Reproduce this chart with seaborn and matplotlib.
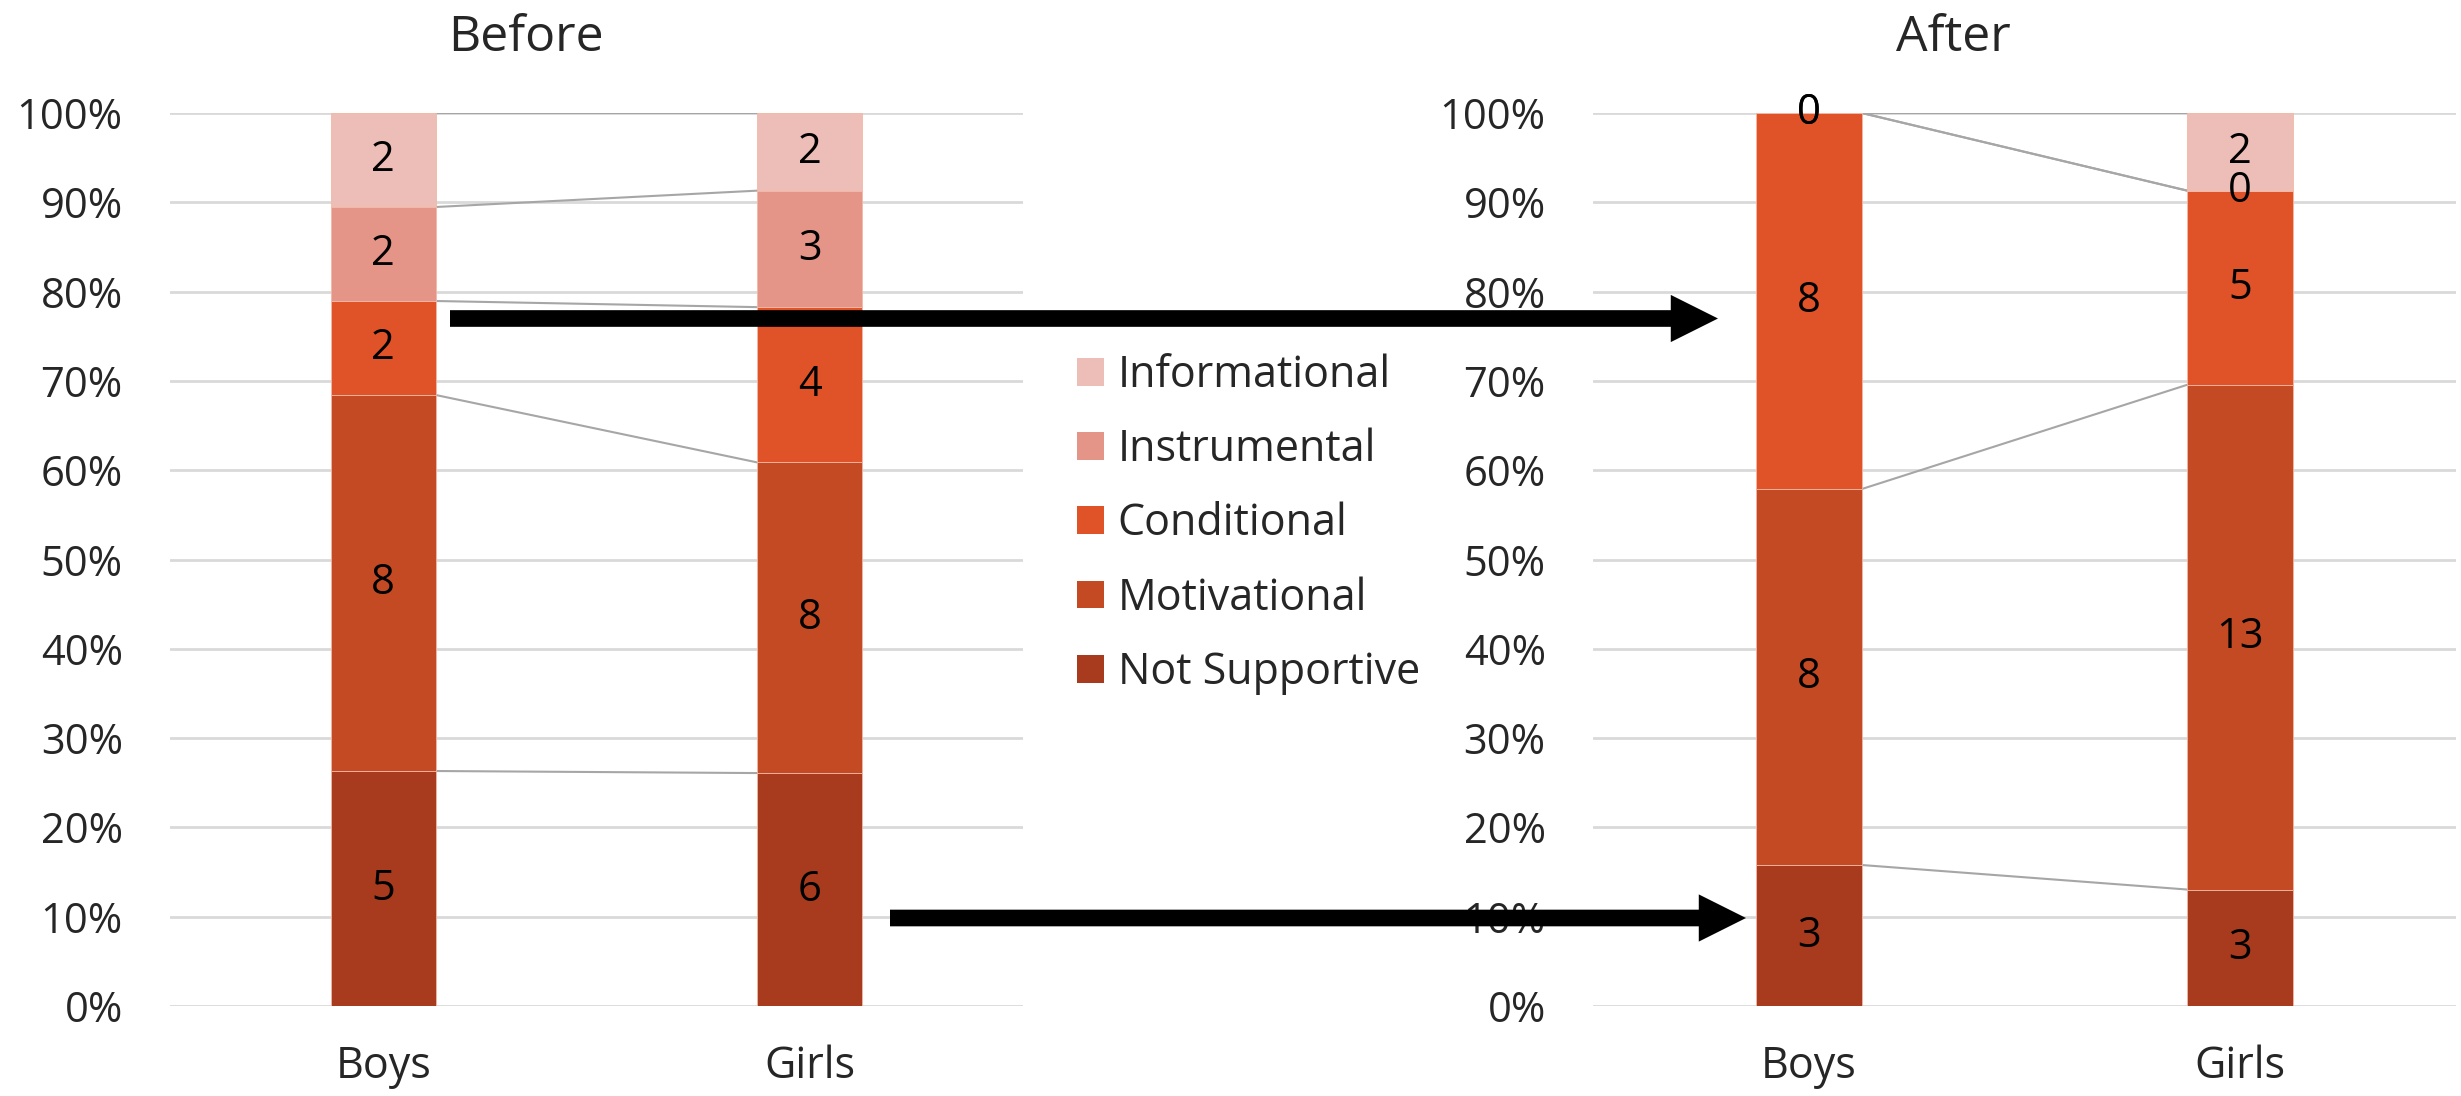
import numpy as np
import pandas as pd
import matplotlib
matplotlib.use("Agg")
import matplotlib.pyplot as plt
from matplotlib.patches import FancyArrowPatch, ArrowStyle, Patch
import seaborn as sns

# ---- data -------------------------------------------------------------
groups = ["Boys", "Girls"]
support_types = ["Not Supportive", "Motivational", "Conditional",
                 "Instrumental", "Informational"]  # bottom -> top
before_boys = [5, 8, 2, 2, 2]
before_girls = [6, 8, 4, 3, 2]
after_boys = [3, 8, 8, 0, 0]
after_girls = [3, 13, 5, 0, 2]
panel_titles = ["Before", "After"]
y_ticks = [0, 10, 20, 30, 40, 50, 60, 70, 80, 90, 100]

palette = {
    "Not Supportive": "#A83B1D",
    "Motivational": "#C44A24",
    "Conditional": "#E05328",
    "Instrumental": "#E59488",
    "Informational": "#EDBDB7",
}

# ---- style ------------------------------------------------------------
sns.set_theme(style="white")
plt.rcParams["font.family"] = ["Open Sans", "DejaVu Sans"]
YTICK_FS = 30
XTICK_FS = 31
LABEL_FS = 30
LEGEND_FS = 31
TITLE_FS = 36
BAR_W = 0.246

fig = plt.figure(figsize=(24.61, 10.96), dpi=100)
ax_before = fig.add_axes([0.0691, 0.0821, 0.3466, 0.8148])
ax_after = fig.add_axes([0.6473, 0.0821, 0.3507, 0.8148])


def draw_panel(ax, boys, girls):
    counts = np.array([boys, girls], dtype=float)  # shape (groups, types)
    totals = counts.sum(axis=1, keepdims=True)
    frac = counts / totals
    cum_top = np.cumsum(frac, axis=1)
    cum_bottom = cum_top - frac

    for j, stype in enumerate(support_types):
        df = pd.DataFrame({"group": groups, "share": frac[:, j]})
        sns.barplot(data=df, x="group", y="share", order=groups,
                    bottom=cum_bottom[:, j], color=palette[stype],
                    width=BAR_W, errorbar=None, ax=ax,
                    edgecolor="#f4b7a4", linewidth=0.6, saturation=1.0,
                    zorder=3)
        # count labels centred in each segment
        for i in range(len(groups)):
            ymid = cum_bottom[i, j] + frac[i, j] / 2
            ax.text(i, ymid, f"{int(counts[i, j])}", ha="center",
                    va="center", fontsize=LABEL_FS, color="black", zorder=5)
        # series lines joining segment tops between the two bars
        ax.plot([0 + BAR_W / 2, 1 - BAR_W / 2],
                [cum_top[0, j], cum_top[1, j]],
                color="#a6a6a6", lw=1.5, zorder=2)

    ax.set_ylim(0, 1)
    ax.set_xlim(-0.5, 1.5)
    ax.set_yticks(np.array(y_ticks) / 100)
    ax.set_yticklabels([f"{t}%" for t in y_ticks])
    ax.yaxis.grid(True, color="#d9d9d9", lw=2, zorder=0)
    ax.xaxis.grid(False)
    ax.set_axisbelow(True)
    ax.set_xlabel("")
    ax.set_ylabel("")
    ax.tick_params(axis="y", length=0, pad=34, labelsize=YTICK_FS)
    ax.tick_params(axis="x", length=0, pad=28, labelsize=XTICK_FS)
    sns.despine(ax=ax, left=True, bottom=True)


draw_panel(ax_before, before_boys, before_girls)
draw_panel(ax_after, after_boys, after_girls)

# panel titles
fig.text(0.2137, 0.965, panel_titles[0], ha="center", va="center",
         fontsize=TITLE_FS)
fig.text(0.7936, 0.965, panel_titles[1], ha="center", va="center",
         fontsize=TITLE_FS)

# shared legend between the panels (top entry = top of stack)
handles = [Patch(facecolor=palette[s], edgecolor="none")
           for s in support_types[::-1]]
fig.legend(handles, support_types[::-1], loc="center left",
           bbox_to_anchor=(0.4376, 0.5217), frameon=False,
           fontsize=LEGEND_FS, handlelength=0.62, handleheight=0.62,
           handletextpad=0.33, labelspacing=0.69, borderpad=0,
           borderaxespad=0)

# arrows linking the two panels
W, H = 2461.0, 1096.0
style = ArrowStyle("Simple", head_length=34, head_width=34, tail_width=12)
for (x0, y0, x1, y1) in [(450, 318.5, 1718, 318.5), (890, 918, 1746, 918)]:
    arr = FancyArrowPatch((x0 / W, 1 - y0 / H), (x1 / W, 1 - y1 / H),
                          transform=fig.transFigure, arrowstyle=style,
                          mutation_scale=1, shrinkA=0, shrinkB=0,
                          color="black", lw=0, zorder=10)
    fig.add_artist(arr)

fig.savefig("out.png", dpi=100, facecolor="white")
